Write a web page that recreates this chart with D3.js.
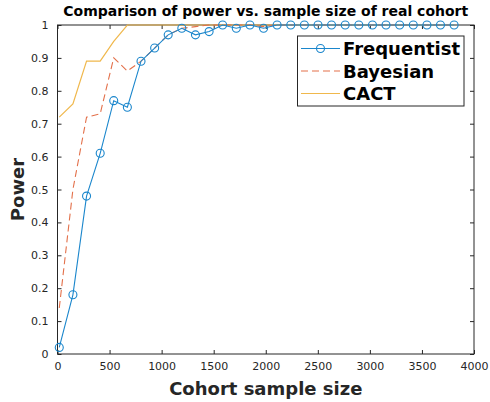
<!DOCTYPE html>
<html><head><meta charset="utf-8">
<script src="https://cdn.jsdelivr.net/npm/d3@7"></script>
<style>body{margin:0;background:#fff}svg{display:block}text{font-family:"DejaVu Sans",sans-serif}</style>
</head><body><svg id="c" width="490" height="402"></svg>
<script>
const sampleSizes = [17,148,279,410,540,671,802,933,1063,1194,1325,1456,1586,1717,1848,1979,2109,2240,2371,2502,2632,2763,2894,3025,3155,3286,3417,3548,3678,3809];
const frequentist = [0.02,0.18,0.48,0.61,0.77,0.75,0.89,0.93,0.97,0.99,0.97,0.98,1,0.99,1,0.99,1,1,1,1,1,1,1,1,1,1,1,1,1,1];
const bayesian = [0.14,0.50,0.72,0.73,0.90,0.86,0.89,0.93,0.97,0.99,0.995,1,1,1,1,0.995,1,1,1,1,1,1,1,1,1,1,1,1,1,1];
const cact = [0.72,0.76,0.89,0.89,0.95,1,1,1,1,1,1,1,1,1,1,1,1,1,1,1,1,1,1,1,1,1,1,1,1,1];
const xTicks = [0,500,1000,1500,2000,2500,3000,3500,4000];
const yTicks = [0,0.1,0.2,0.3,0.4,0.5,0.6,0.7,0.8,0.9,1];
const seriesNames = ["Frequentist","Bayesian","CACT"];
const colors = ["#1A86CC","#E3704A","#F0B84C"];

const svg = d3.select("#c");
const L=57.5,R=474,T=25,B=354;
const x = d3.scaleLinear().domain([0,4000]).range([L,R]);
const y = d3.scaleLinear().domain([0,1]).range([B,T]);
const ax = "#262626";

svg.append("rect").attr("x",L).attr("y",T).attr("width",R-L).attr("height",B-T)
  .attr("fill","none").attr("stroke",ax).attr("stroke-width",1);

const fmtY = d => d===0?"0":(d===1?"1":d.toFixed(1));
const xa = svg.append("g").attr("transform",`translate(0,${B})`)
  .call(d3.axisBottom(x).tickValues(xTicks).tickSizeInner(-4).tickSizeOuter(0).tickPadding(8).tickFormat(d3.format("d")));
const ya = svg.append("g").attr("transform",`translate(${L},0)`)
  .call(d3.axisLeft(y).tickValues(yTicks).tickSizeInner(-4).tickSizeOuter(0).tickPadding(9).tickFormat(fmtY));
const xt = svg.append("g").attr("transform",`translate(0,${T})`)
  .call(d3.axisTop(x).tickValues(xTicks).tickSizeInner(-4).tickSizeOuter(0).tickFormat(""));
const yr = svg.append("g").attr("transform",`translate(${R},0)`)
  .call(d3.axisRight(y).tickValues(yTicks).tickSizeInner(-4).tickSizeOuter(0).tickFormat(""));
[xa,ya,xt,yr].forEach(g=>{
  g.select(".domain").remove();
  g.selectAll("line").attr("stroke",ax);
  g.selectAll("text").attr("fill",ax).attr("font-size",11).attr("font-family","DejaVu Sans");
});

const pts = vals => sampleSizes.map((s,i)=>[s,vals[i]]);
const line = d3.line().x(d=>x(d[0])).y(d=>y(d[1]));
svg.append("path").datum(pts(cact)).attr("d",line).attr("fill","none").attr("stroke",colors[2]).attr("stroke-width",1.2);
svg.append("path").datum(pts(bayesian)).attr("d",line).attr("fill","none").attr("stroke",colors[1]).attr("stroke-width",1.1).attr("stroke-dasharray","7,4");
svg.append("path").datum(pts(frequentist)).attr("d",line).attr("fill","none").attr("stroke",colors[0]).attr("stroke-width",1.1);
svg.selectAll("circle.m").data(pts(frequentist)).join("circle").attr("class","m")
  .attr("cx",d=>x(d[0])).attr("cy",d=>y(d[1])).attr("r",4)
  .attr("fill","none").attr("stroke",colors[0]).attr("stroke-width",1.1);

svg.append("text").attr("x",(L+R)/2).attr("y",16).attr("text-anchor","middle")
  .attr("font-size",14).attr("font-weight","bold").attr("fill","#000").text("Comparison of power vs. sample size of real cohort");
svg.append("text").attr("x",(L+R)/2).attr("y",395).attr("text-anchor","middle")
  .attr("font-size",18).attr("font-weight","bold").attr("fill",ax).text("Cohort sample size");
svg.append("text").attr("transform",`translate(24,${(T+B)/2}) rotate(-90)`).attr("text-anchor","middle")
  .attr("font-size",18).attr("font-weight","bold").attr("fill",ax).text("Power");

const lg = svg.append("g");
lg.append("rect").attr("x",297.5).attr("y",36).attr("width",166.5).attr("height",70)
  .attr("fill","#fff").attr("stroke",ax).attr("stroke-width",1);
const rows=[48.5,71,93.5];
seriesNames.forEach((n,i)=>{
  const l = lg.append("line").attr("x1",301).attr("x2",340).attr("y1",rows[i]).attr("y2",rows[i]).attr("stroke",colors[i]).attr("stroke-width",1.1);
  if(i===1) l.attr("stroke-dasharray","7,4");
  if(i===0) lg.append("circle").attr("cx",320.5).attr("cy",rows[i]).attr("r",4).attr("fill","none").attr("stroke",colors[0]).attr("stroke-width",1.1);
  lg.append("text").attr("x",343).attr("y",rows[i]+6.5).attr("font-size",18).attr("font-weight","bold").attr("fill","#000").text(n);
});
</script></body></html>
